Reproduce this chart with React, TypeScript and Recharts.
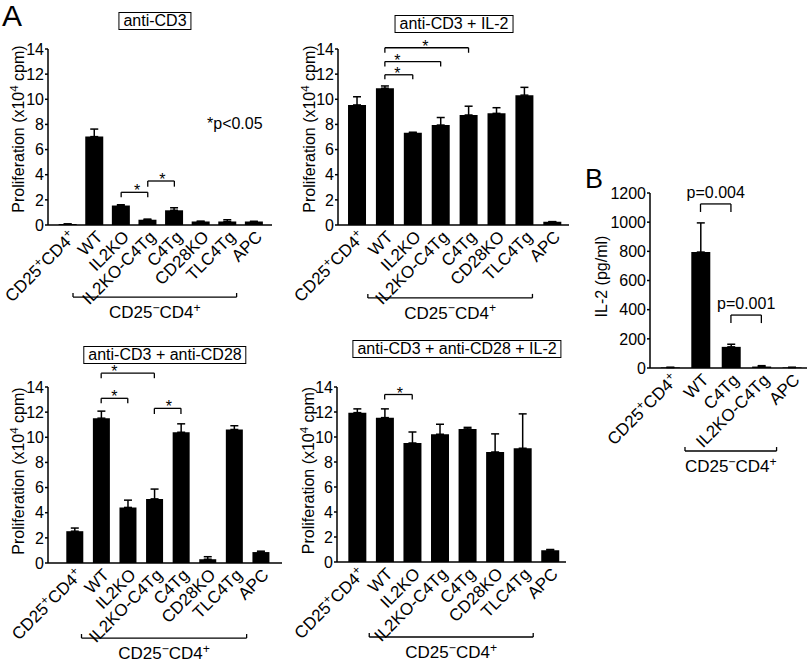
import React from "react";
import {
  ComposedChart,
  Bar,
  XAxis,
  YAxis,
  ErrorBar,
  ReferenceLine,
  ReferenceDot,
} from "recharts";

const FONT = "'Liberation Sans', Arial, Helvetica, sans-serif";

// categories (⁺ / ⁻ are drawn as raised text)
const cellsA = ["CD25⁺CD4⁺", "WT", "IL2KO", "IL2KO-C4Tg", "C4Tg", "CD28KO", "TLC4Tg", "APC"];
const cellsB = ["CD25⁺CD4⁺", "WT", "C4Tg", "IL2KO-C4Tg", "APC"];

// proliferation, x10^4 cpm (mean and upper error)
const antiCD3 = [0.08, 7.03, 1.55, 0.42, 1.17, 0.28, 0.28, 0.27];
const antiCD3Err = [0, 0.6, 0.06, 0.05, 0.2, 0.02, 0.14, 0.02];
const antiCD3IL2 = [9.55, 10.88, 7.33, 7.95, 8.75, 8.88, 10.33, 0.25];
const antiCD3IL2Err = [0.65, 0.18, 0.05, 0.6, 0.7, 0.45, 0.62, 0.02];
const antiCD3CD28 = [2.53, 11.52, 4.42, 5.1, 10.4, 0.3, 10.62, 0.87];
const antiCD3CD28Err = [0.25, 0.56, 0.58, 0.78, 0.67, 0.2, 0.3, 0.07];
const antiCD3CD28IL2 = [11.95, 11.55, 9.52, 10.22, 10.65, 8.8, 9.1, 0.95];
const antiCD3CD28IL2Err = [0.3, 0.7, 0.88, 0.8, 0.12, 1.45, 2.75, 0.05];

// IL-2, pg/ml
const il2 = [4, 795, 145, 10, 4];
const il2Err = [0, 200, 18, 6, 0];

const ticksA = [0, 2, 4, 6, 8, 10, 12, 14];
const ticksB = [0, 200, 400, 600, 800, 1000, 1200];

// significance brackets: from, to, height, leg, star x, text
const sigCD3 = [
  { from: 2, to: 3, y: 2.6, leg: 0.4, sx: 2.6, text: "*" },
  { from: 3, to: 4, y: 3.5, leg: 0.45, sx: 3.55, text: "*" },
];
const sigCD3IL2 = [
  { from: 1, to: 4, y: 14.1, leg: 0.4, sx: 2.45, text: "*" },
  { from: 1, to: 3, y: 13.0, leg: 0.4, sx: 1.45, text: "*" },
  { from: 1, to: 2, y: 11.95, leg: 0.35, sx: 1.45, text: "*" },
];
const sigCD3CD28 = [
  { from: 1, to: 3, y: 15.1, leg: 0.4, sx: 1.5, text: "*" },
  { from: 1, to: 2, y: 13.1, leg: 0.4, sx: 1.5, text: "*" },
  { from: 3, to: 4, y: 12.3, leg: 0.45, sx: 3.55, text: "*" },
];
const sigCD3CD28IL2 = [{ from: 1, to: 2, y: 13.4, leg: 0.4, sx: 1.55, text: "*" }];
const sigIL2 = [
  { from: 1, to: 2, y: 1125, leg: 55, sx: 1.5, text: "p=0.004" },
  { from: 2, to: 3, y: 363, leg: 55, sx: 2.5, text: "p=0.001" },
];

const rowsOf = (vals: number[], errs: number[]) =>
  vals.map((v, i) => ({ x: i, v, err: [0, errs[i]] }));

const SUP: Record<string, string> = { "⁺": "+", "⁻": "−", "⁴": "4" };

function rich(s: string, size: number) {
  const out: React.ReactNode[] = [];
  let up = false;
  let buf = "";
  const flush = () => {
    if (!buf) return;
    out.push(
      <tspan key={out.length} dy={up ? size * 0.38 : 0}>
        {buf}
      </tspan>
    );
    up = false;
    buf = "";
  };
  for (const ch of Array.from(s)) {
    if (SUP[ch]) {
      flush();
      out.push(
        <tspan key={out.length} dy={up ? 0 : -size * 0.38} fontSize={size * 0.72}>
          {SUP[ch]}
        </tspan>
      );
      up = true;
    } else buf += ch;
  }
  flush();
  return out;
}

const XTick = (props: any) => {
  const { x, y, payload, cats } = props;
  const ax = x + 9;
  const ay = y + 13;
  return (
    <text
      x={ax}
      y={ay}
      transform={`rotate(-45 ${ax} ${ay})`}
      textAnchor="end"
      fontSize={17}
      fontFamily={FONT}
      fill="#000"
    >
      {rich(cats[payload.value] ?? "", 17)}
    </text>
  );
};

const textDot = (text: string, dy: number, size = 16) => (p: any) => (
  <text
    x={p.cx}
    y={p.cy + dy}
    textAnchor="middle"
    fontSize={size}
    fontFamily={FONT}
    fill="#000"
  >
    {rich(text, size)}
  </text>
);

interface PanelProps {
  vals: number[];
  errs: number[];
  cats: string[];
  domainX: [number, number];
  yMax: number;
  yTicks: number[];
  yTitle: string;
  titleGap: number;
  titleShift: number;
  barSize: number;
  sig: { from: number; to: number; y: number; leg: number; sx: number; text: string }[];
  sigDy: number;
  group: { a: number; b: number; y: number; tick: number };
  left: number;
  top: number;
  plotW: number;
  plotH: number;
  yw: number;
  xh: number;
}

const Panel = (p: PanelProps) => {
  const mt = 28;
  const mr = 6;
  const data = rowsOf(p.vals, p.errs);
  const gMid = (p.group.a + p.group.b) / 2;
  return (
    <div style={{ position: "absolute", left: p.left - p.yw, top: p.top - mt }}>
      <ComposedChart
        width={p.yw + p.plotW + mr}
        height={mt + p.plotH + p.xh}
        data={data}
        margin={{ top: mt, right: mr, bottom: 0, left: 0 }}
      >
        <XAxis
          dataKey="x"
          type="number"
          domain={p.domainX}
          ticks={p.cats.map((_, i) => i)}
          interval={0}
          height={p.xh}
          tickSize={0}
          tickMargin={0}
          tickLine={false}
          axisLine={{ stroke: "#000", strokeWidth: 1.5 }}
          tick={<XTick cats={p.cats} />}
        />
        <YAxis
          type="number"
          domain={[0, p.yMax]}
          ticks={p.yTicks}
          interval={0}
          width={p.yw}
          tickSize={3}
          tickMargin={1}
          axisLine={{ stroke: "#000", strokeWidth: 1.5 }}
          tickLine={{ stroke: "#000", strokeWidth: 1.5 }}
          tick={{ fill: "#000", fontSize: 16, fontFamily: FONT }}
          label={{
            content: (lp: any) => {
              const vb = lp.viewBox || {};
              const bx = vb.x + vb.width - p.titleGap;
              const cy = vb.y + vb.height / 2 + p.titleShift;
              return (
                <text
                  x={bx}
                  y={cy}
                  transform={`rotate(-90 ${bx} ${cy})`}
                  textAnchor="middle"
                  fontSize={16}
                  fontFamily={FONT}
                  fill="#000"
                >
                  {rich(p.yTitle, 16)}
                </text>
              );
            },
          }}
        />
        <Bar dataKey="v" fill="#000" barSize={p.barSize} isAnimationActive={false}>
          <ErrorBar dataKey="err" direction="y" width={4} stroke="#000" strokeWidth={1.5} />
        </Bar>
        {p.sig.map((s, i) => (
          <React.Fragment key={i}>
            <ReferenceLine
              ifOverflow="visible"
              stroke="#000"
              strokeWidth={1.3}
              segment={[{ x: s.from, y: s.y }, { x: s.to, y: s.y }]}
            />
            <ReferenceLine
              ifOverflow="visible"
              stroke="#000"
              strokeWidth={1.3}
              segment={[{ x: s.from, y: s.y }, { x: s.from, y: s.y - s.leg }]}
            />
            <ReferenceLine
              ifOverflow="visible"
              stroke="#000"
              strokeWidth={1.3}
              segment={[{ x: s.to, y: s.y }, { x: s.to, y: s.y - s.leg }]}
            />
            <ReferenceDot
              x={s.sx}
              y={s.y}
              r={1}
              ifOverflow="visible"
              shape={textDot(s.text, p.sigDy)}
            />
          </React.Fragment>
        ))}
        <ReferenceLine
          ifOverflow="visible"
          stroke="#000"
          strokeWidth={1.3}
          segment={[{ x: p.group.a, y: p.group.y }, { x: p.group.b, y: p.group.y }]}
        />
        <ReferenceLine
          ifOverflow="visible"
          stroke="#000"
          strokeWidth={1.3}
          segment={[{ x: p.group.a, y: p.group.y }, { x: p.group.a, y: p.group.y + p.group.tick }]}
        />
        <ReferenceLine
          ifOverflow="visible"
          stroke="#000"
          strokeWidth={1.3}
          segment={[{ x: p.group.b, y: p.group.y }, { x: p.group.b, y: p.group.y + p.group.tick }]}
        />
        <ReferenceDot
          x={gMid}
          y={p.group.y}
          r={1}
          ifOverflow="visible"
          shape={textDot("CD25⁻CD4⁺", 21, 17)}
        />
      </ComposedChart>
    </div>
  );
};

const boxTitle = (text: string, cx: number, top: number) => (
  <div
    style={{
      position: "absolute",
      left: cx,
      top,
      transform: "translateX(-50%)",
      border: "1.2px solid #000",
      padding: "0 4px",
      fontSize: 16,
      lineHeight: "16px",
      fontFamily: FONT,
      whiteSpace: "nowrap",
      background: "#fff",
    }}
  >
    {text}
  </div>
);

const yTitleA = "Proliferation (x10⁴ cpm)";

export default function App() {
  return (
    <div
      style={{
        position: "absolute",
        left: 0,
        top: 0,
        width: 812,
        height: 665,
        background: "#fff",
        overflow: "hidden",
        fontFamily: FONT,
      }}
    >
      <Panel
        vals={antiCD3}
        errs={antiCD3Err}
        cats={cellsA}
        domainX={[-0.75, 7.67]}
        yMax={14}
        yTicks={ticksA}
        yTitle={yTitleA}
        titleGap={24}
        titleShift={-8}
        barSize={18}
        sig={sigCD3}
        sigDy={4}
        group={{ a: 0.19, b: 6.34, y: -5.73, tick: 0.32 }}
        left={48}
        top={49}
        plotW={224}
        plotH={176}
        yw={48}
        xh={105}
      />
      <Panel
        vals={antiCD3IL2}
        errs={antiCD3IL2Err}
        cats={cellsA}
        domainX={[-0.68, 7.6]}
        yMax={14}
        yTicks={ticksA}
        yTitle={yTitleA}
        titleGap={23}
        titleShift={-8}
        barSize={18}
        sig={sigCD3IL2}
        sigDy={4}
        group={{ a: 0.39, b: 6.29, y: -5.8, tick: 0.32 }}
        left={338}
        top={49}
        plotW={231}
        plotH={176}
        yw={50}
        xh={105}
      />
      <Panel
        vals={antiCD3CD28}
        errs={antiCD3CD28Err}
        cats={cellsA}
        domainX={[-1.0, 7.8]}
        yMax={14}
        yTicks={ticksA}
        yTitle={yTitleA}
        titleGap={24}
        titleShift={-4}
        barSize={17}
        sig={sigCD3CD28}
        sigDy={4}
        group={{ a: 0.26, b: 6.47, y: -5.97, tick: 0.32 }}
        left={48}
        top={387}
        plotW={234}
        plotH={176}
        yw={48}
        xh={103}
      />
      <Panel
        vals={antiCD3CD28IL2}
        errs={antiCD3CD28IL2Err}
        cats={cellsA}
        domainX={[-0.73, 7.58]}
        yMax={14}
        yTicks={ticksA}
        yTitle={yTitleA}
        titleGap={23}
        titleShift={-4}
        barSize={18}
        sig={sigCD3CD28IL2}
        sigDy={4}
        group={{ a: 0.44, b: 6.39, y: -6.0, tick: 0.32 }}
        left={337}
        top={387}
        plotW={229}
        plotH={175}
        yw={50}
        xh={103}
      />
      <Panel
        vals={il2}
        errs={il2Err}
        cats={cellsB}
        domainX={[-0.66, 4.5]}
        yMax={1200}
        yTicks={ticksB}
        yTitle="IL-2 (pg/ml)"
        titleGap={43}
        titleShift={-4}
        barSize={19}
        sig={sigIL2}
        sigDy={-6}
        group={{ a: 0.49, b: 3.5, y: -569, tick: 27 }}
        left={650}
        top={193}
        plotW={157}
        plotH={175}
        yw={64}
        xh={110}
      />
      {boxTitle("anti-CD3", 155, 12)}
      {boxTitle("anti-CD3 + IL-2", 454, 15)}
      {boxTitle("anti-CD3 + anti-CD28", 165, 346)}
      {boxTitle("anti-CD3 + anti-CD28 + IL-2", 457, 340)}
      <div style={{ position: "absolute", left: 2, top: 1, fontSize: 30, lineHeight: "30px", fontFamily: FONT }}>
        A
      </div>
      <div style={{ position: "absolute", left: 585, top: 166, fontSize: 27, lineHeight: "27px", fontFamily: FONT }}>
        B
      </div>
      <div style={{ position: "absolute", left: 207, top: 115, fontSize: 16, fontFamily: FONT }}>
        *p&lt;0.05
      </div>
    </div>
  );
}
